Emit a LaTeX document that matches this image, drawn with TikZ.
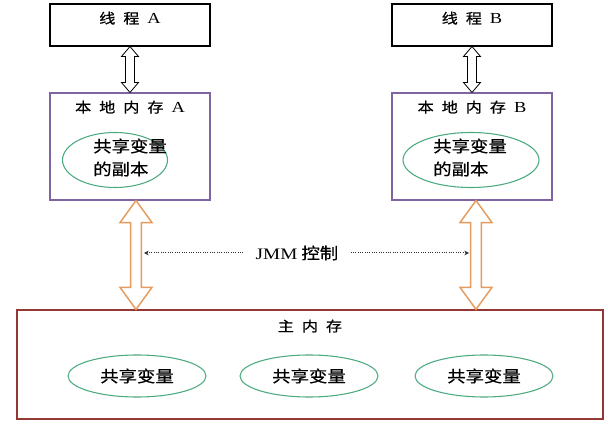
\documentclass[tikz,border=0pt]{standalone}
\usepackage{fontspec}
\setmainfont[FakeStretch=1.2]{Liberation Serif}
\newfontfamily\cjk[FakeStretch=1.15,FakeBold=0.6]{Noto Sans CJK SC}
\usetikzlibrary{arrows.meta,calc,positioning,shapes.geometric}
\definecolor{ink}{HTML}{000000}
\definecolor{local}{HTML}{8064A2}
\definecolor{heap}{HTML}{953735}
\definecolor{copy}{HTML}{4BAA7E}
\definecolor{sync}{HTML}{E59B5E}
\definecolor{ctrl}{HTML}{333333}
\newcommand{\gap}{\hspace{6pt}}
\newcommand{\lat}[1]{{\rmfamily\fontsize{11.5}{13}\selectfont #1}}
% outline double arrow: style, top point, bottom point, shaft half, head half, head length
\newcommand{\hollowarrow}[6][]{%
  \draw[#1] let \p1=(#2), \p2=(#3) in
    (\x1,\y1) -- (\x1+#5,\y1-#6) -- (\x1+#4,\y1-#6) -- (\x1+#4,\y2+#6)
    -- (\x1+#5,\y2+#6) -- (\x1,\y2) -- (\x1-#5,\y2+#6) -- (\x1-#4,\y2+#6)
    -- (\x1-#4,\y1-#6) -- (\x1-#5,\y1-#6) -- cycle;}
\tikzset{
  thread/.style={draw=ink,line width=0.8pt,minimum width=120pt,minimum height=31.5pt,inner sep=0pt},
  localmem/.style={draw=local,line width=0.8pt,minimum width=120pt,minimum height=80.25pt,inner sep=0pt},
  mainmem/.style={draw=heap,line width=0.9pt,minimum width=439.5pt,minimum height=81.75pt,inner sep=0pt},
  title/.style={font=\cjk\fontsize{10.5}{12}\selectfont,inner sep=0pt,text=ink},
  var/.style={ellipse,draw=copy,line width=0.8pt,inner sep=0pt,minimum height=31.5pt,minimum width=103.5pt,
    font=\cjk\fontsize{12}{14}\selectfont},
  varcopy/.style={ellipse,draw=copy,line width=0.8pt,inner sep=0pt,minimum height=41.25pt},
  copytext/.style={font=\cjk\fontsize{12}{17.25}\selectfont,align=left,inner sep=0pt},
  thin arrow/.style={draw=ink,line width=0.6pt,fill=white},
  sync arrow/.style={draw=sync,line width=1.1pt,fill=white},
  ctrlline/.style={draw=ctrl,densely dotted,line width=0.75pt,-{Stealth[length=3.5pt,width=3.5pt]}}
}
\begin{document}
\begin{tikzpicture}[x=0.75pt,y=-0.75pt]
\useasboundingbox (0,0) rectangle (608,424);
% threads
\node[thread,label={[title,anchor=north,yshift=-6pt]north:线\gap 程\gap\lat{A}}] (thA) at (130,25) {};
\node[thread,label={[title,anchor=north,yshift=-6pt]north:线\gap 程\gap\lat{B}}] (thB) at (472,25) {};
% working memory
\node[localmem,label={[title,anchor=north,yshift=-6pt]north:本\gap 地\gap 内\gap 存\gap\lat{A}}] (locA) at (130,146.5) {};
\node[localmem,label={[title,anchor=north,yshift=-6pt]north:本\gap 地\gap 内\gap 存\gap\lat{B}}] (locB) at (472,146.5) {};
\node[varcopy,minimum width=78.75pt] (cpA) at (115,160) {};
\node[copytext] (cpAtxt) at (130,157.5) {共享变量\\的副本};
\node[varcopy,minimum width=102pt] (cpB) at (471,160) {};
\node[copytext] (cpBtxt) at (470,157.5) {共享变量\\的副本};
% main memory
\node[mainmem,label={[title,anchor=north,yshift=-7.5pt]north:主\gap 内\gap 存}] (main) at (310,364.5) {};
\node[var] (v1) at (137,376) {共享变量};
\node[var] (v2) at (309,376) {共享变量};
\node[var] (v3) at (484,376) {共享变量};
% arrows
\hollowarrow[thin arrow]{thA.south}{locA.north}{3.4pt}{6.4pt}{7.5pt}
\hollowarrow[thin arrow]{thB.south}{locB.north}{3.4pt}{6.4pt}{7.5pt}
\hollowarrow[sync arrow]{[xshift=4.5pt]locA.south}{main.north}{4.1pt}{12pt}{16.5pt}
\hollowarrow[sync arrow]{[xshift=3pt]locB.south}{main.north}{4.1pt}{12pt}{16.5pt}
% JMM control
\coordinate (ctlA) at (144,253);
\coordinate (ctlB) at (469,253);
\node[font=\cjk\fontsize{12}{14}\selectfont,inner sep=9pt] (jmm) at (297,253) {{\rmfamily\fontsize{12}{14}\selectfont JMM} 控制};
\draw[ctrlline] (jmm) -- (ctlA);
\draw[ctrlline] (jmm) -- (ctlB);
\end{tikzpicture}
\end{document}
